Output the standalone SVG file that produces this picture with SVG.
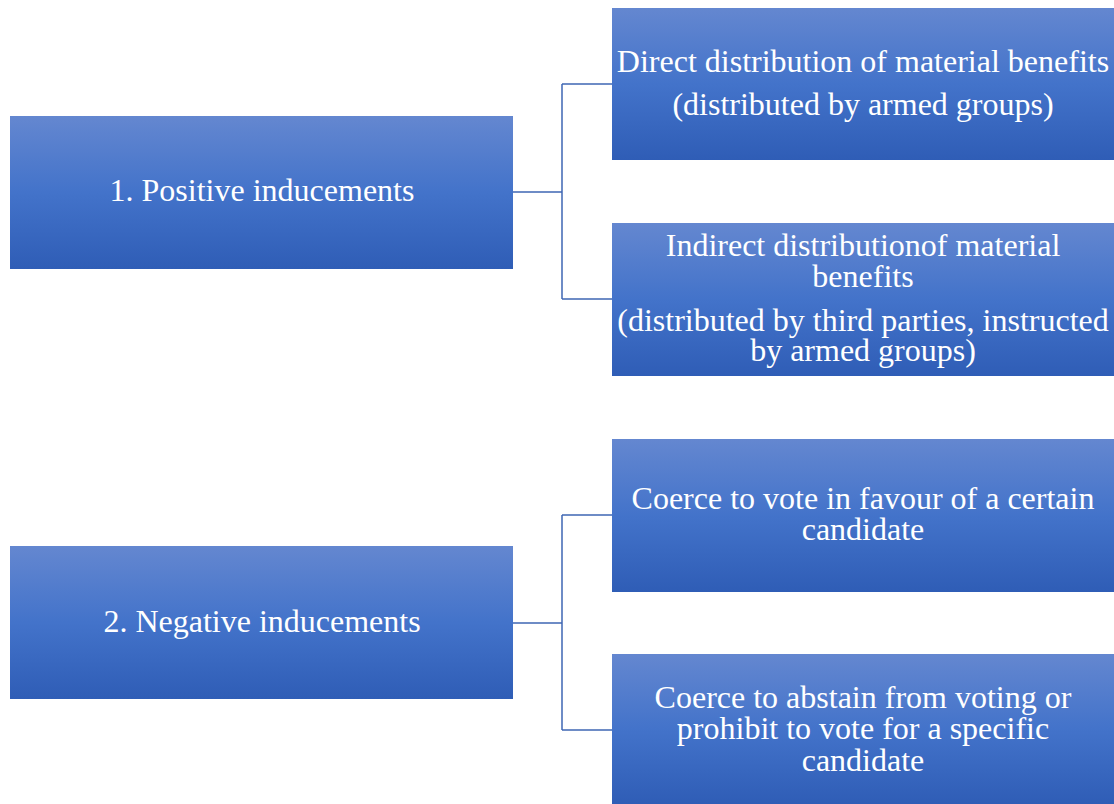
<svg xmlns="http://www.w3.org/2000/svg" width="1114" height="804" viewBox="0 0 1114 804">
  <defs>
    <linearGradient id="boxFill" x1="0" y1="0" x2="0" y2="1">
      <stop offset="0" stop-color="#6487D0"/>
      <stop offset="0.5" stop-color="#4373CA"/>
      <stop offset="1" stop-color="#2F5DB6"/>
    </linearGradient>
    <style>
      .box { fill: url(#boxFill); }
      .lbl { font-family: 'Liberation Serif', Tinos, 'Times New Roman', Times, serif; font-size: 32px; fill: #ffffff; text-anchor: middle; }
      .link { fill: none; stroke: #3F67B4; stroke-width: 1.5; }
    </style>
  </defs>
  <rect width="1114" height="804" fill="#ffffff"/>

  <g id="connectors">
    <path class="link" d="M513 192 H562 M562 84 V299 M562 84 H612 M562 299 H612"/>
    <path class="link" d="M513 623 H562 M562 515 V730 M562 515 H612 M562 730 H612"/>
  </g>

  <g id="positive">
    <rect class="box" x="10" y="116" width="503" height="153"/>
    <text class="lbl" x="262" y="201">1. Positive inducements</text>
  </g>

  <g id="direct">
    <rect class="box" x="612" y="8" width="502" height="152"/>
    <text class="lbl" x="863" y="72">Direct distribution of material benefits</text>
    <text class="lbl" x="863" y="115">(distributed by armed groups)</text>
  </g>

  <g id="indirect">
    <rect class="box" x="612" y="223" width="502" height="153"/>
    <text class="lbl" x="863" y="256">Indirect distributionof material</text>
    <text class="lbl" x="863" y="287">benefits</text>
    <text class="lbl" x="863" y="331">(distributed by third parties, instructed</text>
    <text class="lbl" x="863" y="361">by armed groups)</text>
  </g>

  <g id="negative">
    <rect class="box" x="10" y="546" width="503" height="153"/>
    <text class="lbl" x="262" y="632">2. Negative inducements</text>
  </g>

  <g id="coerce-favour">
    <rect class="box" x="612" y="439" width="502" height="153"/>
    <text class="lbl" x="863" y="509">Coerce to vote in favour of a certain</text>
    <text class="lbl" x="863" y="540">candidate</text>
  </g>

  <g id="coerce-abstain">
    <rect class="box" x="612" y="654" width="502" height="150"/>
    <text class="lbl" x="863" y="708">Coerce to abstain from voting or</text>
    <text class="lbl" x="863" y="739">prohibit to vote for a specific</text>
    <text class="lbl" x="863" y="771">candidate</text>
  </g>
</svg>
